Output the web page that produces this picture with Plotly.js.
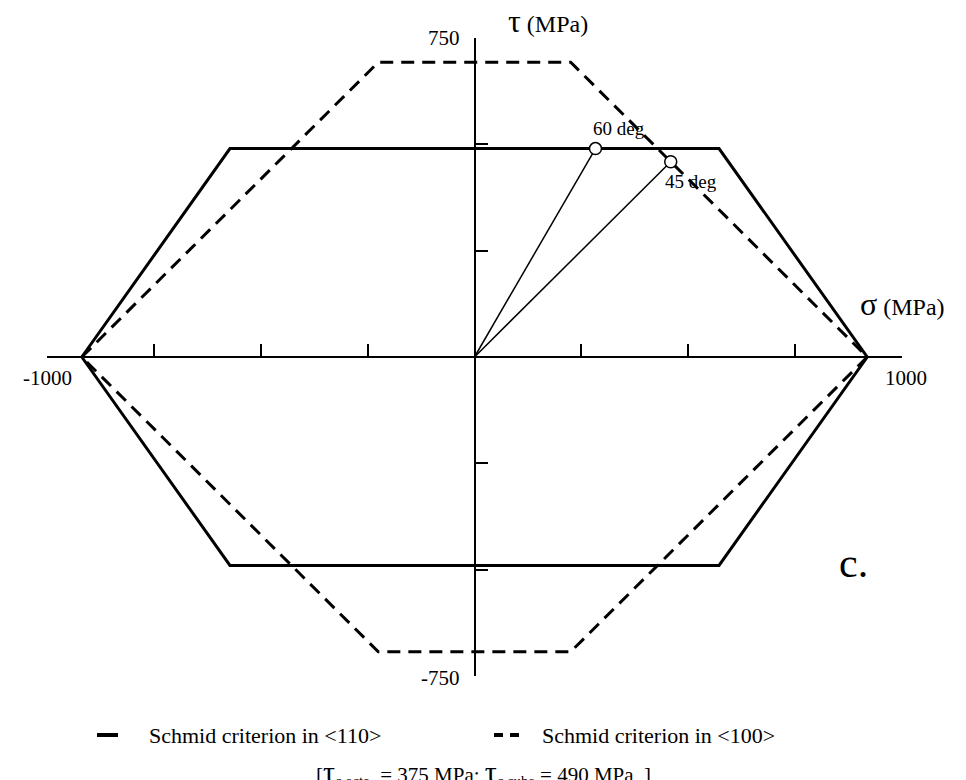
<!DOCTYPE html>
<html>
<head>
<meta charset="utf-8">
<script src="https://cdn.plot.ly/plotly-3.0.1.min.js"></script>
<style>
  html, body { margin: 0; padding: 0; background: #fff; }
  #chart { width: 966px; height: 780px; }
</style>
</head>
<body>
<div id="chart"></div>
<script>
// Yield envelopes in the (sigma, tau) plane, MPa
const octaSigma = [-918.6, -572, 572, 918.6, 572, -572, -918.6];
const octaTau   = [0, 490, 490, 0, -490, -490, 0];
const cubeSigma = [-918.6, -225, 225, 918.6, 225, -225, -918.6];
const cubeTau   = [0, 693, 693, 0, -693, -693, 0];

// Loading paths from the origin to the yield point
const pathAngles = ['60 deg', '45 deg'];
const pathSigma  = [283, 459];
const pathTau    = [490, 459];

// Axis ticks and the labelled ends of each axis
const sigmaTicks  = [-1000, -750, -500, -250, 0, 250, 500, 750, 1000];
const tauTicks    = [-750, -500, -250, 0, 250, 500, 750];
const sigmaEnds   = [-1000, 1000];
const sigmaEndTxt = ['-1000', '1000'];
const tauEnds     = [750, -750];
const tauEndTxt   = ['750', '-750'];

// Legend entries
const seriesNames = ['Schmid criterion in &lt;110&gt;', 'Schmid criterion in &lt;100&gt;'];

const serif = 'Liberation Serif, Times New Roman, serif';
const black = '#000';

const traces = [
  {
    x: octaSigma, y: octaTau, mode: 'lines', name: seriesNames[0],
    line: { color: black, width: 3 }, hoverinfo: 'skip'
  },
  {
    x: cubeSigma, y: cubeTau, mode: 'lines', name: seriesNames[1],
    line: { color: black, width: 3, dash: '13px,8px' }, hoverinfo: 'skip'
  }
];

pathSigma.forEach((s, i) => {
  traces.push({
    x: [0, s], y: [0, pathTau[i]], mode: 'lines',
    line: { color: black, width: 1.5 }, hoverinfo: 'skip'
  });
});
traces.push({
  x: pathSigma, y: pathTau, mode: 'markers',
  marker: { size: 12, color: '#fff', line: { color: black, width: 1.5 } },
  hoverinfo: 'skip'
});

// pixel helpers for the annotation block under the plot
const L = 47, T = 38, W = 855, H = 638;
const px = v => (v - L) / W;
const py = v => (T + H - v) / H;

const labelShift = [[24, 20], [20, -20]];
const annotations = pathAngles.map((t, i) => ({
  x: pathSigma[i], y: pathTau[i], text: t, showarrow: false,
  xshift: labelShift[i][0], yshift: labelShift[i][1],
  font: { family: serif, size: 19, color: black }
}));

// end labels of the axes
sigmaEnds.forEach((v, i) => annotations.push({
  x: v, y: 0, text: sigmaEndTxt[i], showarrow: false,
  xanchor: 'center', yanchor: 'top', yshift: -7, xshift: i === 1 ? 4 : 0,
  font: { family: serif, size: 21, color: black }
}));
tauEnds.forEach((v, i) => annotations.push({
  x: 0, y: v, text: tauEndTxt[i], showarrow: false,
  xanchor: 'right', yanchor: 'middle', xshift: -13, yshift: i === 1 ? -2 : 0,
  font: { family: serif, size: 21, color: black }
}));

annotations.push(
  { xref: 'paper', yref: 'paper', x: 0.5, y: 1, xanchor: 'left', yanchor: 'middle',
    xshift: 31, yshift: 17,
    text: '<span style="font-size:32px">τ</span> (MPa)', showarrow: false,
    font: { family: serif, size: 24, color: black } },
  { xref: 'paper', yref: 'paper', x: 1, y: 0.5, xanchor: 'center', yanchor: 'middle',
    xshift: 0, yshift: 53,
    text: '<span style="font-size:32px">σ</span> (MPa)', showarrow: false,
    font: { family: serif, size: 24, color: black } },
  { xref: 'paper', yref: 'paper', x: px(853), y: py(563), xanchor: 'center', yanchor: 'middle',
    text: 'c.', showarrow: false,
    font: { family: serif, size: 42, color: black } },
  { xref: 'paper', yref: 'paper', x: px(147), y: py(735), xanchor: 'left', yanchor: 'middle',
    text: seriesNames[0], showarrow: false,
    font: { family: serif, size: 22, color: black } },
  { xref: 'paper', yref: 'paper', x: px(540), y: py(735), xanchor: 'left', yanchor: 'middle',
    text: seriesNames[1], showarrow: false,
    font: { family: serif, size: 22, color: black } },
  { xref: 'paper', yref: 'paper', x: px(483), y: py(772),
    xanchor: 'center', yanchor: 'middle',
    text: '[<span style="font-size:30px">τ</span><sub>c octa</sub>  = 375 MPa; <span style="font-size:30px">τ</span><sub>c cube</sub> = 490 MPa  ]',
    showarrow: false,
    font: { family: serif, size: 21, color: black } }
);

// legend keys
const shapes = [
  { type: 'line', xref: 'paper', yref: 'paper',
    x0: px(97), x1: px(118), y0: py(735), y1: py(735),
    line: { color: black, width: 4 } },
  { type: 'line', xref: 'paper', yref: 'paper',
    x0: px(494), x1: px(519), y0: py(735), y1: py(735),
    line: { color: black, width: 4, dash: '9px,7px' } }
];

const layout = {
  width: 966, height: 780,
  margin: { l: L, r: 966 - L - W, t: T, b: 780 - T - H },
  paper_bgcolor: '#fff', plot_bgcolor: '#fff',
  showlegend: false,
  xaxis: {
    range: [-1000, 1000], anchor: 'free', position: 0.5,
    showline: true, linecolor: black, linewidth: 2,
    showgrid: false, zeroline: false, showticklabels: false,
    ticks: 'inside', ticklen: 12, tickwidth: 2, tickcolor: black,
    tickmode: 'array', tickvals: sigmaTicks
  },
  yaxis: {
    range: [-750, 750], anchor: 'free', position: 0.5,
    showline: true, linecolor: black, linewidth: 2,
    showgrid: false, zeroline: false, showticklabels: false,
    ticks: 'inside', ticklen: 12, tickwidth: 2, tickcolor: black,
    tickmode: 'array', tickvals: tauTicks
  },
  annotations: annotations,
  shapes: shapes
};

Plotly.newPlot('chart', traces, layout, { staticPlot: true, displayModeBar: false });
</script>
</body>
</html>
